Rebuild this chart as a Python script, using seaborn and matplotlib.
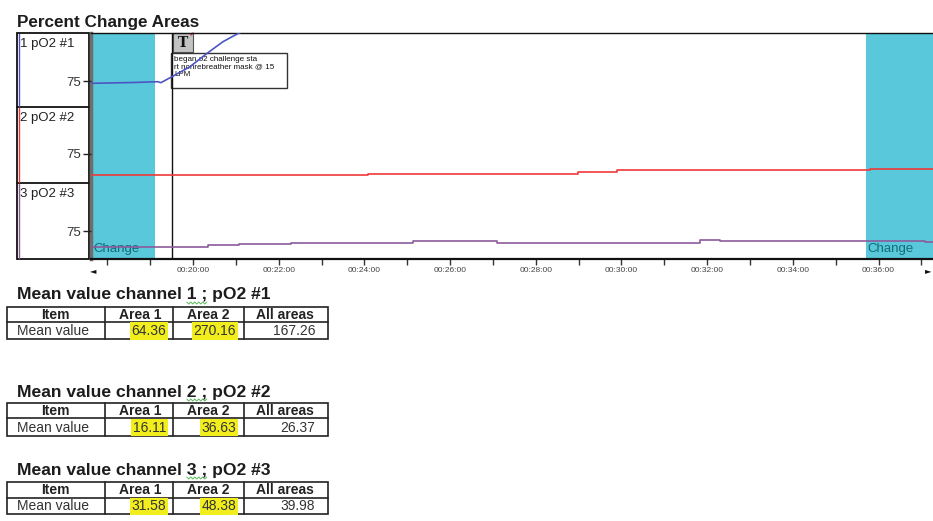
import matplotlib
matplotlib.use("Agg")
import matplotlib.pyplot as plt
from matplotlib.patches import Rectangle
import numpy as np
import pandas as pd
import seaborn as sns

# ---- channel traces (time in minutes, value in channel units) ----
ch1_minutes = [17.64, 18.60, 19.18, 19.25, 19.51, 19.93, 20.33, 20.70, 21.03, 21.33, 21.80]
ch1_values = [72.7, 73.5, 74.3, 73.3, 79.3, 89.3, 102.7, 114.3, 122.0, 128.0, 140.0]

ch2_minutes = [17.64, 22.10, 24.08, 28.99, 29.90, 33.54, 35.80, 37.27]
ch2_values = [53.7, 54.3, 55.5, 57.3, 58.7, 59.3, 60.3, 60.3]

ch3_minutes = [17.64, 20.35, 21.07, 22.29, 25.13, 27.09, 31.83, 32.30, 37.08, 37.27]
ch3_values = [59.5, 61.3, 62.3, 63.3, 64.7, 63.3, 66.5, 65.0, 64.0, 64.0]

channel_labels = ["1 pO2 #1", "2 pO2 #2", "3 pO2 #3"]
channel_ref_tick = 75

# change areas (minutes)
area_starts = [17.64, 35.71]
area_ends = [19.11, 37.27]

# event marker
event_minute = 19.51
event_note = "began o2 challenge sta\nrt nonrebreather mask @ 15\nLPM"

# time axis
tick_minutes = list(range(18, 38))
labeled_minutes = [20, 22, 24, 26, 28, 30, 32, 34, 36]

# summary tables
table_sensors = ["pO2 #1", "pO2 #2", "pO2 #3"]
area1_means = [64.36, 16.11, 31.58]
area2_means = [270.16, 36.63, 48.38]
all_means = [167.26, 26.37, 39.98]
table_headers = ["Item", "Area 1", "Area 2", "All areas"]
row_label = "Mean value"

# ---- styling ----
sns.set_style("white")
plt.rcParams["font.family"] = ["Liberation Sans", "DejaVu Sans"]

W, H = 933, 521
fig = plt.figure(figsize=(W / 100, H / 100), dpi=100, facecolor="white")
renderer = fig.canvas.get_renderer()


def px_box(x0, y0, x1, y1):
    return [x0 / W, 1 - y1 / H, (x1 - x0) / W, (y1 - y0) / H]


CYAN = "#59c8da"
BLUE = "#4c56c2"
RED = "#f03a3a"
PURPLE = "#8b5b9c"
XMIN, XMAX = 17.62, 37.27

# page layer for titles, label panel, note and tables
page = fig.add_axes([0, 0, 1, 1], zorder=0)
page.set_xlim(0, W)
page.set_ylim(H, 0)
page.axis("off")
page.patch.set_alpha(0)

page.text(17, 22, "Percent Change Areas", fontsize=12.3, fontweight="bold",
          va="center", ha="left", color="#1c1c1c")

# channel label panel
page.add_patch(Rectangle((17, 33), 72, 226, fill=False, ec="#111", lw=1.3))
for yy in (107, 183):
    page.plot([17, 89], [yy, yy], color="#111", lw=1.3)
panel_rows = [(34, 106), (108, 182), (184, 258)]
for (r0, r1), col in zip(panel_rows, [BLUE, RED, PURPLE]):
    page.plot([18.6, 18.6], [r0, r1], color=col, lw=1)
for (r0, _), lab in zip(panel_rows, channel_labels):
    page.text(20, r0 + 9.5, lab, fontsize=9.5, va="center", ha="left", color="#222")

# event tag and note
page.add_patch(Rectangle((173, 33), 20, 19, fc="#c3c3c3", ec="#555", lw=0.8))
page.text(183, 43, "T", fontsize=10, fontweight="bold", family="DejaVu Serif",
          ha="center", va="center", color="#111")
page.plot([191, 193], [35, 33], color="#d03030", lw=1)
page.add_patch(Rectangle((171, 53), 116, 35, fc="white", ec="#333", lw=1))
page.text(174, 56, event_note, fontsize=5.8, va="top", ha="left",
          linespacing=1.15, color="#111")

# axis arrows
page.text(93, 271, "\u25c4", fontsize=6, ha="center", va="center", color="#111",
          family="DejaVu Sans")
page.text(928, 271, "\u25ba", fontsize=6, ha="center", va="center", color="#111",
          family="DejaVu Sans")

# summary tables
table_rows = [(295, 307, 322, 339), (392, 403, 418, 436), (470, 482, 498, 514)]
col_lines = [105, 173, 244]
header_centers = [55, 140, 208, 285]
value_rights = [166, 236, 315]
title_kw = dict(fontsize=12.6, fontweight="bold", va="center", ha="left", color="#1c1c1c")
for i, (ty, top, mid, bot) in enumerate(table_rows):
    prefix = "Mean value channel "
    page.text(17, ty, f"{prefix}{i + 1} ; {table_sensors[i]}", **title_kw)
    # proofing squiggle under the channel number
    probe = page.text(17, ty, prefix, **title_kw)
    x_start = 17 + probe.get_window_extent(renderer).width
    probe2 = page.text(17, ty, f"{prefix}{i + 1} ;", **title_kw)
    x_end = 17 + probe2.get_window_extent(renderer).width
    probe.remove()
    probe2.remove()
    zx = np.arange(x_start, x_end + 0.5, 2.0)
    zy = ty + 8 + np.where(np.arange(len(zx)) % 2 == 0, -1.0, 1.0)
    page.plot(zx, zy, color="#5cb85c", lw=0.7)

    page.add_patch(Rectangle((7, top), 321, bot - top, fill=False, ec="#222", lw=1.2))
    page.plot([7, 328], [mid, mid], color="#222", lw=1.2)
    for cx in col_lines:
        page.plot([cx, cx], [top, bot], color="#222", lw=1.2)
    hy = (top + mid) / 2 + 0.5
    for cx, h in zip(header_centers, table_headers):
        page.text(cx, hy, h, fontsize=10, fontweight="bold", ha="center",
                  va="center", color="#222")
    vy = (mid + bot) / 2 + 0.5
    page.text(17, vy, row_label, fontsize=10, ha="left", va="center", color="#333")
    vals = [area1_means[i], area2_means[i], all_means[i]]
    for j, (xr, v) in enumerate(zip(value_rights, vals)):
        kw = {}
        if j < 2:
            kw["bbox"] = dict(boxstyle="square,pad=0.12", fc="#f2ee1e", ec="none")
        page.text(xr, vy, f"{v:.2f}", fontsize=10, ha="right", va="center",
                  color="#333", **kw)

# background layer: change areas, event line, time axis
bg = fig.add_axes(px_box(91, 33, 933, 259), zorder=1)
bg.patch.set_alpha(0)
bg.set_xlim(XMIN, XMAX)
bg.set_ylim(0, 1)
bg.set_yticks([])
for s, e in zip(area_starts, area_ends):
    bg.axvspan(s, e, color=CYAN, lw=0, zorder=0)
    bg.text(s + 0.03, 0.045, "Change", transform=bg.get_xaxis_transform(),
            fontsize=9.5, color="#136c76", ha="left", va="center")
bg.axvline(event_minute, color="#111", lw=1)
bg.spines["right"].set_visible(False)
bg.spines["top"].set_color("#111")
bg.spines["top"].set_linewidth(1)
bg.spines["bottom"].set_color("#111")
bg.spines["bottom"].set_linewidth(1.6)
bg.spines["left"].set_color("#6e6e6e")
bg.spines["left"].set_linewidth(2.5)
bg.set_xticks(tick_minutes)
bg.set_xticklabels([f"00:{m:02d}:00" if m in labeled_minutes else "" for m in tick_minutes])
bg.tick_params(axis="x", length=4, width=1, pad=2, labelsize=6,
               labelcolor="#444", color="#333", bottom=True)

# channel traces
traces = [
    (ch1_minutes, ch1_values, BLUE, (33, 107), (49, 123), None),
    (ch2_minutes, ch2_values, RED, (107, 183), (46, 122), "steps-post"),
    (ch3_minutes, ch3_values, PURPLE, (183, 259), (47, 123), "steps-post"),
]
for mins, vals, col, (y0, y1), lim, ds in traces:
    ax = fig.add_axes(px_box(91, y0, 933, y1), zorder=2)
    ax.patch.set_alpha(0)
    df = pd.DataFrame({"minute": mins, "value": vals})
    kw = {"drawstyle": ds} if ds else {}
    sns.lineplot(data=df, x="minute", y="value", ax=ax, color=col, lw=1.2,
                 estimator=None, **kw)
    ax.set_xlim(XMIN, XMAX)
    ax.set_ylim(*lim)
    ax.set_xticks([])
    ax.set_yticks([channel_ref_tick])
    ax.tick_params(axis="y", left=True, length=6, width=1, pad=1.5, labelsize=9.5,
                   labelcolor="#333", color="#222")
    ax.set_xlabel("")
    ax.set_ylabel("")
    for sp in ax.spines.values():
        sp.set_visible(False)

fig.savefig("out.png", dpi=100, facecolor="white")
